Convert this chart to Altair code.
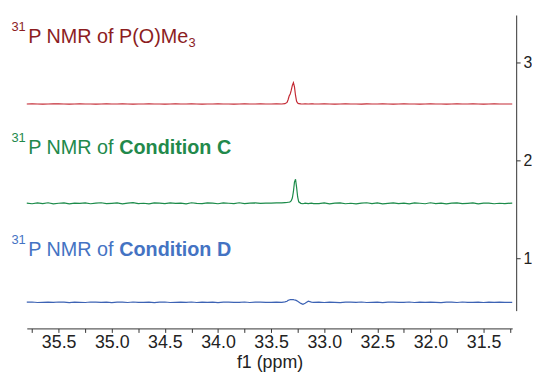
import altair as alt
import pandas as pd

# chemical shift sampling points (ppm)
ppm = [
    35.80, 35.75, 35.70, 35.65, 35.60, 35.55, 35.50, 35.45, 35.40, 35.35,
    35.30, 35.25, 35.20, 35.15, 35.10, 35.05, 35.00, 34.95, 34.90, 34.85,
    34.80, 34.75, 34.70, 34.65, 34.60, 34.55, 34.50, 34.45, 34.40, 34.35,
    34.30, 34.25, 34.20, 34.15, 34.10, 34.05, 34.00, 33.95, 33.90, 33.85,
    33.80, 33.75, 33.70, 33.65, 33.60, 33.55, 33.50, 33.45,
    33.40, 33.37, 33.35, 33.34, 33.33, 33.32, 33.31, 33.30, 33.29, 33.28,
    33.27, 33.26, 33.25, 33.24, 33.22, 33.20, 33.18, 33.15, 33.12, 33.10,
    33.05, 33.00, 32.95, 32.90, 32.85, 32.80, 32.75, 32.70, 32.65, 32.60,
    32.55, 32.50, 32.45, 32.40, 32.35, 32.30, 32.25, 32.20, 32.15, 32.10,
    32.05, 32.00, 31.95, 31.90, 31.85, 31.80, 31.75, 31.70, 31.65, 31.60,
    31.55, 31.50, 31.45, 31.40, 31.35, 31.30, 31.23,
]

# intensities relative to each trace's baseline
pome3 = [
    0.000, 0.001, 0.000, -0.001, 0.000, 0.001, 0.001, 0.000, -0.001, 0.000,
    0.001, 0.000, 0.000, -0.001, 0.000, 0.001, 0.000, 0.000, 0.001, 0.000,
    -0.001, 0.000, 0.000, 0.001, 0.000, 0.000, -0.001, 0.000, 0.001, 0.000,
    0.000, 0.001, 0.000, -0.001, 0.000, 0.000, 0.001, 0.000, 0.000, -0.001,
    0.000, 0.001, 0.000, 0.000, 0.001, 0.000, 0.000, 0.001,
    0.000, 0.003, 0.016, 0.043, 0.081, 0.103, 0.141, 0.190, 0.217, 0.174,
    0.087, 0.027, 0.009, 0.003, 0.001, 0.000, 0.001, 0.000, 0.002, 0.001,
    0.000, 0.001, 0.000, -0.001, 0.000, 0.001, 0.000, 0.000, -0.001, 0.001,
    0.000, 0.000, 0.001, 0.000, -0.001, 0.000, 0.001, 0.000, 0.000, -0.001,
    0.000, 0.001, 0.000, 0.000, -0.001, 0.000, 0.001, 0.000, 0.000, 0.001,
    0.000, -0.001, 0.000, 0.001, 0.000, 0.000, 0.000,
]
cond_c = [
    0.002, -0.004, 0.005, -0.002, 0.006, -0.005, 0.001, 0.004, -0.006, 0.003,
    -0.001, 0.005, -0.004, 0.002, 0.006, -0.003, 0.000, 0.004, -0.005, 0.003,
    0.007, -0.002, 0.001, -0.006, 0.004, 0.002, -0.003, 0.005, -0.001, 0.003,
    -0.005, 0.006, 0.000, -0.003, 0.004, 0.002, -0.004, 0.005, 0.001, -0.002,
    0.006, -0.003, 0.002, 0.004, -0.001, 0.003, 0.002, 0.004,
    0.004, 0.007, 0.009, 0.011, 0.013, 0.017, 0.027, 0.054, 0.119, 0.217,
    0.246, 0.163, 0.065, 0.016, 0.000, -0.004, 0.002, -0.003, 0.003, -0.002,
    -0.003, 0.004, -0.005, 0.002, 0.005, -0.004, 0.001, -0.006, 0.003, 0.006,
    -0.002, 0.004, -0.005, 0.000, 0.005, -0.003, 0.002, -0.006, 0.004, 0.001,
    -0.004, 0.006, -0.002, 0.003, -0.005, 0.002, 0.005, -0.003, 0.000, 0.004,
    -0.006, 0.002, 0.003, -0.004, 0.001, -0.002, 0.003,
]
cond_d = [
    0.001, 0.003, -0.002, 0.000, 0.002, -0.001, 0.003, 0.001, -0.003, 0.002,
    0.000, -0.002, 0.003, 0.001, -0.001, 0.002, -0.003, 0.001, 0.002, -0.002,
    0.003, 0.000, -0.001, 0.002, -0.003, 0.001, 0.003, -0.002, 0.000, 0.002,
    -0.001, 0.003, -0.002, 0.001, 0.000, 0.002, -0.003, 0.001, 0.002, -0.001,
    0.000, 0.003, -0.002, 0.001, 0.002, -0.001, 0.000, 0.001,
    0.000, 0.004, 0.011, 0.020, 0.024, 0.027, 0.028, 0.028, 0.027, 0.024,
    0.022, 0.017, 0.011, 0.004, -0.011, -0.020, -0.009, 0.011, 0.002, 0.000,
    0.001, -0.002, 0.002, 0.000, -0.003, 0.002, 0.001, -0.001, 0.003, -0.002,
    0.000, 0.002, -0.003, 0.001, 0.002, -0.001, 0.000, 0.003, -0.002, 0.001,
    -0.001, 0.002, 0.000, -0.003, 0.002, 0.001, -0.002, 0.003, 0.000, -0.001,
    0.002, -0.002, 0.001, 0.000, 0.002, -0.001, 0.000,
]

series = ["P(O)Me3", "Condition C", "Condition D"]
offsets = [2.576, 1.561, 0.550]
line_colors = ["#C42A34", "#1C8B4A", "#3D63B4"]
text_colors = ["#8C1D1F", "#22894B", "#4473C3"]
label_ppm = [35.786, 35.786, 35.786]
label_y = [3.199, 2.068, 1.027]
main_text = ["P NMR of P(O)Me", "P NMR of", "P NMR of"]
bold_text = ["", "Condition C", "Condition D"]
x_ticks = [35.75, 35.5, 35.25, 35.0, 34.75, 34.5, 34.25, 34.0, 33.75, 33.5,
           33.25, 33.0, 32.75, 32.5, 32.25, 32.0, 31.75, 31.5, 31.25]
y_ticks = [1, 2, 3]
x_domain = [31.23, 35.8]
y_domain = [0.465, 3.485]

rows = []
for name, off, vals in zip(series, offsets, [pome3, cond_c, cond_d]):
    for x, v in zip(ppm, vals):
        rows.append({"series": name, "ppm": x, "y": off + v})
spec = pd.DataFrame(rows)

labels = pd.DataFrame({
    "series": series, "ppm": label_ppm, "y": label_y,
    "main": main_text, "bold": bold_text, "tc": text_colors,
})

FONT = "Liberation Sans"
xscale = alt.Scale(domain=x_domain, reverse=True, nice=False, zero=False)
yscale = alt.Scale(domain=y_domain, nice=False, zero=False)

x_axis = alt.Axis(
    values=x_ticks,
    labelExpr="abs(datum.value*2 - round(datum.value*2)) < 0.01 ? format(datum.value, '.1f') : ''",
    tickSize=4, labelPadding=1, offset=18, grid=False,
    domainColor="#333333", tickColor="#333333", labelColor="#222222",
    labelFont=FONT, labelFontSize=18, titleFont=FONT, titleFontSize=18,
    titleFontWeight="normal", titleColor="#222222", titlePadding=3,
    labelFlush=False, labelOverlap=False,
)
y_axis = alt.Axis(
    orient="right", values=y_ticks, format="d", tickSize=4, labelPadding=3,
    offset=4, grid=False, domainColor="#333333", tickColor="#333333",
    labelColor="#222222", labelFont=FONT, labelFontSize=16, title=None,
)

X = alt.X("ppm:Q", scale=xscale, axis=x_axis, title="f1 (ppm)")
Y = alt.Y("y:Q", scale=yscale, axis=y_axis)

lines = alt.Chart(spec).mark_line(strokeWidth=1.2).encode(
    x=X, y=Y,
    color=alt.Color("series:N", scale=alt.Scale(domain=series, range=line_colors), legend=None),
    detail="series:N",
)

base = alt.Chart(labels).encode(x=X, y=Y, color=alt.Color("tc:N", scale=None))

sup = base.mark_text(align="left", baseline="alphabetic", font=FONT, fontSize=13,
                     dx=-17, dy=-12).encode(text=alt.value("31"))
main = base.mark_text(align="left", baseline="alphabetic", font=FONT, fontSize=20).encode(text="main:N")
sub = base.mark_text(align="left", baseline="alphabetic", font=FONT, fontSize=13,
                     dx=162, dy=4).encode(text=alt.value("3")).transform_filter("datum.series == 'P(O)Me3'")
bold = base.mark_text(align="left", baseline="alphabetic", font=FONT, fontSize=20,
                      fontWeight="bold", dx=92).encode(text="bold:N")

chart = alt.layer(lines, sup, main, sub, bold).resolve_scale(color="independent").properties(
    width=491, height=299,
    autosize=alt.AutoSizeParams(type="none"),
    padding={"left": 19, "top": 5, "right": 20, "bottom": 62},
    background="white",
).configure_view(stroke=None)

chart.save("out.html", embed_options={"renderer": "svg", "actions": False})
